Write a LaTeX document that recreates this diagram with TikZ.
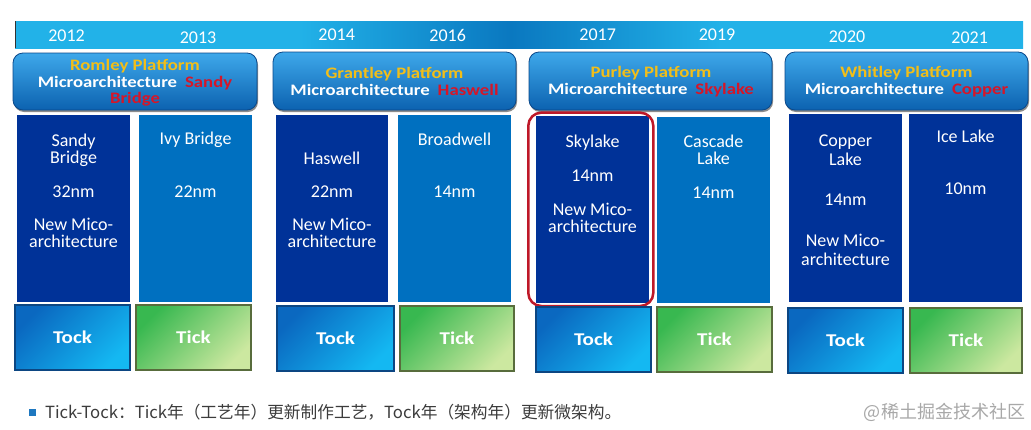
\documentclass[tikz,border=0pt]{standalone}
\usepackage{fontspec}
\setmainfont{Carlito}
\newfontfamily\platf[FakeStretch=1.17]{Carlito}
\newfontfamily\cjk{Noto Sans CJK SC}
\usetikzlibrary{shadows}
\definecolor{barcyan}{RGB}{34,178,232}
\definecolor{bardark}{RGB}{10,120,192}
\definecolor{coldark}{RGB}{0,50,152}
\definecolor{collight}{RGB}{0,112,192}
\definecolor{pftop}{RGB}{62,168,234}
\definecolor{pfbot}{RGB}{12,98,176}
\definecolor{pfedge}{RGB}{10,72,138}
\definecolor{gold}{RGB}{242,190,24}
\definecolor{archred}{RGB}{214,22,40}
\definecolor{hlred}{RGB}{190,24,40}
\definecolor{tockA}{RGB}{10,104,192}
\definecolor{tockB}{RGB}{20,184,242}
\definecolor{tockE}{RGB}{12,70,130}
\definecolor{tickA}{RGB}{56,184,80}
\definecolor{tickB}{RGB}{204,232,160}
\definecolor{tickE}{RGB}{88,108,60}
\definecolor{bullet}{RGB}{30,120,192}
\definecolor{note}{RGB}{60,60,60}
\definecolor{wm}{RGB}{168,168,168}
\pgfdeclarehorizontalshading{barshade}{100bp}{color(0bp)=(barcyan); color(25bp)=(barcyan); color(39bp)=(barcyan); color(49.6bp)=(bardark); color(60bp)=(barcyan); color(75bp)=(barcyan); color(100bp)=(barcyan)}
\newcommand\bxnode[7]{%
  \pgfmathsetmacro\bxcx{(#3+#5)/2}\pgfmathsetmacro\bxcy{(#4+#6)/2}%
  \pgfmathsetmacro\bxww{#5-#3}\pgfmathsetmacro\bxhh{#6-#4}%
  \node[#2,minimum width=\bxww pt,minimum height=\bxhh pt] (#1) at (\bxcx,\bxcy) {#7};}
\begin{document}
\begin{tikzpicture}[x=1pt,y=-1pt,
  every node/.style={inner sep=0pt,outer sep=0pt},
  year/.style={text=white,font=\fontsize{18}{18}\selectfont},
  colbox/.style={rectangle,fill=#1},
  coltext/.style={text=white,align=center,font=\fontsize{18}{17}\selectfont},
  platbox/.style={rectangle,rounded corners=10pt,top color=pftop,bottom color=pfbot,draw=pfedge,line width=0.8pt,
     drop shadow={shadow xshift=1pt,shadow yshift=-2pt,fill=black,opacity=0.45}},
  plattext/.style={text=white,align=center,font=\platf\bfseries\fontsize{16}{16.6}\selectfont},
  tockbox/.style={rectangle,top color=tockA,bottom color=tockB,shading angle=45,draw=tockE,line width=1.2pt,
     text=white,font=\platf\bfseries\fontsize{18}{18}\selectfont},
  tickbox/.style={rectangle,top color=tickA,bottom color=tickB,shading angle=45,draw=tickE,line width=1.2pt,
     text=white,font=\platf\bfseries\fontsize{18}{18}\selectfont},
  highlight/.style={draw=hlred,line width=2.5pt,rounded corners=13pt}
]
\useasboundingbox[fill=white] (0,0) rectangle (1031,429);
% top bar
\shade[shading=barshade] (15,48) rectangle (1023,21);
\draw[black!80,line width=1pt] (15.5,21) -- (15.5,48);
% years
\node[year] (y2012) at (66.5,35.8) {2012};
\node[year] (y2013) at (198,37.8) {2013};
\node[year] (y2014) at (336.7,35) {2014};
\node[year] (y2016) at (447.7,35) {2016};
\node[year] (y2017) at (597.7,35) {2017};
\node[year] (y2019) at (717,35) {2019};
\node[year] (y2020) at (847,36.7) {2020};
\node[year] (y2021) at (969.7,38) {2021};
% platform boxes
\bxnode{p1}{platbox}{13}{53}{257}{110}{}
\bxnode{p2}{platbox}{273}{52}{516}{110}{}
\bxnode{p3}{platbox}{529}{52}{772}{110}{}
\bxnode{p4}{platbox}{785}{52}{1028}{110}{}
\node[plattext] (p1t) at (135,82.8) {\textcolor{gold}{Romley Platform}\\Microarchitecture\hspace{8pt}\textcolor{archred}{Sandy}\\\textcolor{archred}{Bridge}};
\node[plattext] (p2t) at (394.5,81.4) {\textcolor{gold}{Grantley Platform}\\Microarchitecture\hspace{8pt}\textcolor{archred}{Haswell}};
\node[plattext] (p3t) at (651,81.4) {\textcolor{gold}{Purley Platform}\\Microarchitecture\hspace{8pt}\textcolor{archred}{Skylake}};
\node[plattext] (p4t) at (906.5,81.4) {\textcolor{gold}{Whitley Platform}\\Microarchitecture\hspace{8pt}\textcolor{archred}{Copper}};
% columns
\bxnode{c1}{colbox=coldark}{17}{115}{130}{302}{}
\bxnode{c2}{colbox=collight}{139}{115}{252}{302}{}
\bxnode{c3}{colbox=coldark}{276}{115}{388}{302}{}
\bxnode{c4}{colbox=collight}{398}{115}{511}{302}{}
\bxnode{c5}{colbox=coldark}{536}{116}{649}{303}{}
\bxnode{c6}{colbox=collight}{657}{117}{770}{303}{}
\bxnode{c7}{colbox=coldark}{789}{114}{902}{302}{}
\bxnode{c8}{colbox=coldark}{909}{114}{1022}{302}{}
% column texts
\node[coltext] (c1a) at (c1.center |- 0,150) {Sandy\\Bridge};
\node[coltext] (c1b) at (c1.center |- 0,191.7) {32nm};
\node[coltext] (c1c) at (c1.center |- 0,233) {New Mico-\\architecture};
\node[coltext] (c2a) at (c2.center |- 0,139.3) {Ivy Bridge};
\node[coltext] (c2b) at (c2.center |- 0,191.7) {22nm};
\node[coltext] (c3a) at (c3.center |- 0,158.3) {Haswell};
\node[coltext] (c3b) at (c3.center |- 0,191.7) {22nm};
\node[coltext] (c3c) at (c3.center |- 0,233) {New Mico-\\architecture};
\node[coltext] (c4a) at (c4.center |- 0,139.3) {Broadwell};
\node[coltext] (c4b) at (c4.center |- 0,191.7) {14nm};
\node[coltext] (c5a) at (c5.center |- 0,142.7) {Skylake};
\node[coltext] (c5b) at (c5.center |- 0,176) {14nm};
\node[coltext] (c5c) at (c5.center |- 0,217.5) {New Mico-\\architecture};
\node[coltext] (c6a) at (c6.center |- 0,149.5) {Cascade\\Lake};
\node[coltext] (c6b) at (c6.center |- 0,192.7) {14nm};
\node[coltext,font=\fontsize{18}{19}\selectfont] (c7a) at (c7.center |- 0,150.3) {Copper\\Lake};
\node[coltext] (c7b) at (c7.center |- 0,200) {14nm};
\node[coltext,font=\fontsize{18}{19}\selectfont] (c7c) at (c7.center |- 0,249.7) {New Mico-\\architecture};
\node[coltext] (c8a) at (c8.center |- 0,136) {Ice Lake};
\node[coltext] (c8b) at (c8.center |- 0,188.3) {10nm};
% highlight
\draw[highlight] (528.3,112.7) rectangle (653.3,306);
% tick / tock
\bxnode{tock1}{tockbox}{15}{305}{130}{370}{Tock}
\bxnode{tick1}{tickbox}{136}{305}{251}{370}{Tick}
\bxnode{tock2}{tockbox}{277}{306}{394}{371}{Tock}
\bxnode{tick2}{tickbox}{400}{306}{514}{371}{Tick}
\bxnode{tock3}{tockbox}{536}{307}{651}{372}{Tock}
\bxnode{tick3}{tickbox}{657}{307}{772}{372}{Tick}
\bxnode{tock4}{tockbox}{788}{308}{903}{373}{Tock}
\bxnode{tick4}{tickbox}{910}{308}{1022}{373}{Tick}
% note
\bxnode{blt}{rectangle,fill=bullet}{29}{408.5}{36}{415.5}{}
\node[anchor=west,text=note,font=\cjk\fontsize{16.7}{16.7}\selectfont] (notetext) at (45,412) {Tick-Tock：Tick年（工艺年）更新制作工艺，Tock年（架构年）更新微架构。};
\node[anchor=east,text=wm,font=\cjk\fontsize{18}{18}\selectfont] (wmark) at (1025,412) {@稀土掘金技术社区};
\end{tikzpicture}
\end{document}
